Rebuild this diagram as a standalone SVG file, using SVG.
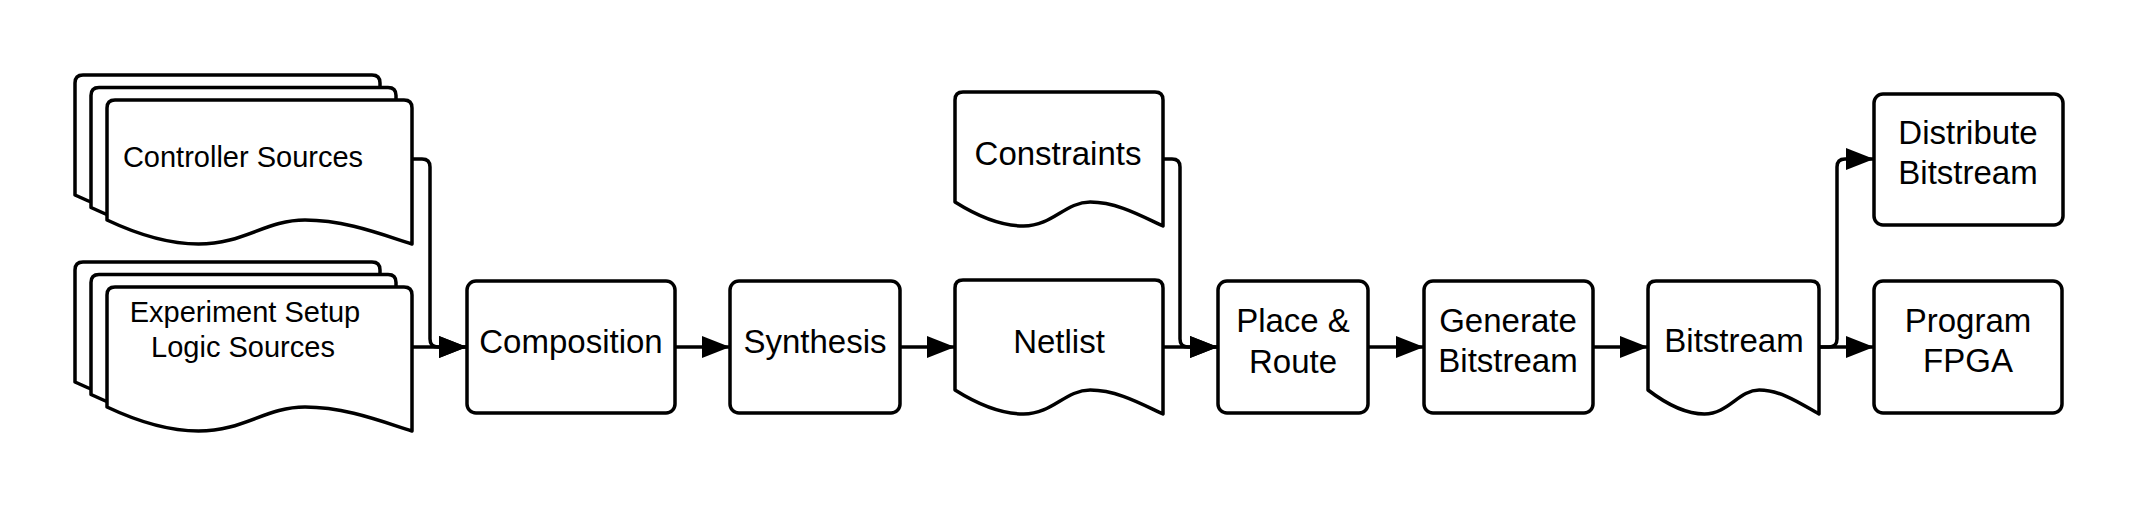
<svg xmlns="http://www.w3.org/2000/svg" width="2138" height="506" viewBox="0 0 2138 506">
<style>
.shape{fill:#ffffff;stroke:#000000;stroke-width:3.5;stroke-linejoin:round}
.conn{fill:none;stroke:#000000;stroke-width:3.5}
text{font-family:"Liberation Sans",Arial,sans-serif;fill:#000000;text-anchor:middle}
.big{font-size:33px}
.small{font-size:29px}
</style>
<defs>
<marker id="arr" markerUnits="userSpaceOnUse" markerWidth="30" markerHeight="24" refX="28" refY="11" orient="auto">
<path d="M0,0 L28,11 L0,22 Z" fill="#000000"/>
</marker>
</defs>
<rect width="2138" height="506" fill="#ffffff"/>
<g id="connectors">
<path class="conn" d="M412,159 H422 Q430,159 430,167 V339 Q430,347 438,347 H467" marker-end="url(#arr)"/>
<path class="conn" d="M412,347 H467" marker-end="url(#arr)"/>
<path class="conn" d="M675,347 H730" marker-end="url(#arr)"/>
<path class="conn" d="M900,347 H955" marker-end="url(#arr)"/>
<path class="conn" d="M1163,347 H1218" marker-end="url(#arr)"/>
<path class="conn" d="M1163,159 H1172 Q1180,159 1180,167 V339 Q1180,347 1188,347 H1218" marker-end="url(#arr)"/>
<path class="conn" d="M1368,347 H1424" marker-end="url(#arr)"/>
<path class="conn" d="M1593,347 H1648" marker-end="url(#arr)"/>
<path class="conn" d="M1819,347 H1874" marker-end="url(#arr)"/>
<path class="conn" d="M1819,347 H1829 Q1837,347 1837,339 V167 Q1837,159 1845,159 H1874" marker-end="url(#arr)"/>
</g>
<g id="controller-sources">
<path class="shape" transform="translate(75,75)" d="M0,120 C30.5,134.4 61,144 91.5,144 C137,144 158.6,120 198,120 C238,120 274.5,134.4 305,144 V8 Q305,0 297,0 H8 Q0,0 0,8 Z"/>
<path class="shape" transform="translate(91,87.5)" d="M0,120 C30.5,134.4 61,144 91.5,144 C137,144 158.6,120 198,120 C238,120 274.5,134.4 305,144 V8 Q305,0 297,0 H8 Q0,0 0,8 Z"/>
<path class="shape" transform="translate(107,100)" d="M0,120 C30.5,134.4 61,144 91.5,144 C137,144 158.6,120 198,120 C238,120 274.5,134.4 305,144 V8 Q305,0 297,0 H8 Q0,0 0,8 Z"/>
<text class="small" x="243" y="167">Controller Sources</text>
</g>
<g id="experiment-sources">
<path class="shape" transform="translate(75,262)" d="M0,120 C30.5,134.4 61,144 91.5,144 C137,144 158.6,120 198,120 C238,120 274.5,134.4 305,144 V8 Q305,0 297,0 H8 Q0,0 0,8 Z"/>
<path class="shape" transform="translate(91,274.5)" d="M0,120 C30.5,134.4 61,144 91.5,144 C137,144 158.6,120 198,120 C238,120 274.5,134.4 305,144 V8 Q305,0 297,0 H8 Q0,0 0,8 Z"/>
<path class="shape" transform="translate(107,287)" d="M0,120 C30.5,134.4 61,144 91.5,144 C137,144 158.6,120 198,120 C238,120 274.5,134.4 305,144 V8 Q305,0 297,0 H8 Q0,0 0,8 Z"/>
<text class="small" x="245" y="322">Experiment Setup</text>
<text class="small" x="243" y="357">Logic Sources</text>
</g>
<g id="composition">
<rect class="shape" x="467" y="281" width="208" height="132" rx="9"/>
<text class="big" x="571" y="353">Composition</text>
</g>
<g id="synthesis">
<rect class="shape" x="730" y="281" width="170" height="132" rx="9"/>
<text class="big" x="815" y="353">Synthesis</text>
</g>
<g id="constraints">
<path class="shape" transform="translate(955,92)" d="M0,110 C22.9,124.4 45.8,134 68.6,134 C97.8,134 110.2,110 135.2,110 C162.2,110 187.2,124.4 208,134 V8 Q208,0 200,0 H8 Q0,0 0,8 Z"/>
<text class="big" x="1058" y="165">Constraints</text>
</g>
<g id="netlist">
<path class="shape" transform="translate(955,280)" d="M0,110 C22.9,124.4 45.8,134 68.6,134 C97.8,134 110.2,110 135.2,110 C162.2,110 187.2,124.4 208,134 V8 Q208,0 200,0 H8 Q0,0 0,8 Z"/>
<text class="big" x="1059" y="353">Netlist</text>
</g>
<g id="place-route">
<rect class="shape" x="1218" y="281" width="150" height="132" rx="9"/>
<text class="big" x="1293" y="332">Place &amp;</text>
<text class="big" x="1293" y="373">Route</text>
</g>
<g id="generate-bitstream">
<rect class="shape" x="1424" y="281" width="169" height="132" rx="9"/>
<text class="big" x="1508" y="332">Generate</text>
<text class="big" x="1508" y="372">Bitstream</text>
</g>
<g id="bitstream">
<path class="shape" transform="translate(1648,281)" d="M0,109 C18.8,123.4 37.6,133 56.4,133 C80.4,133 90.6,109 111.2,109 C133.4,109 153.9,123.4 171,133 V8 Q171,0 163,0 H8 Q0,0 0,8 Z"/>
<text class="big" x="1734" y="352">Bitstream</text>
</g>
<g id="distribute-bitstream">
<rect class="shape" x="1874" y="94" width="189" height="131" rx="9"/>
<text class="big" x="1968" y="144">Distribute</text>
<text class="big" x="1968" y="184">Bitstream</text>
</g>
<g id="program-fpga">
<rect class="shape" x="1874" y="281" width="188" height="132" rx="9"/>
<text class="big" x="1968" y="332">Program</text>
<text class="big" x="1968" y="372">FPGA</text>
</g>
</svg>
